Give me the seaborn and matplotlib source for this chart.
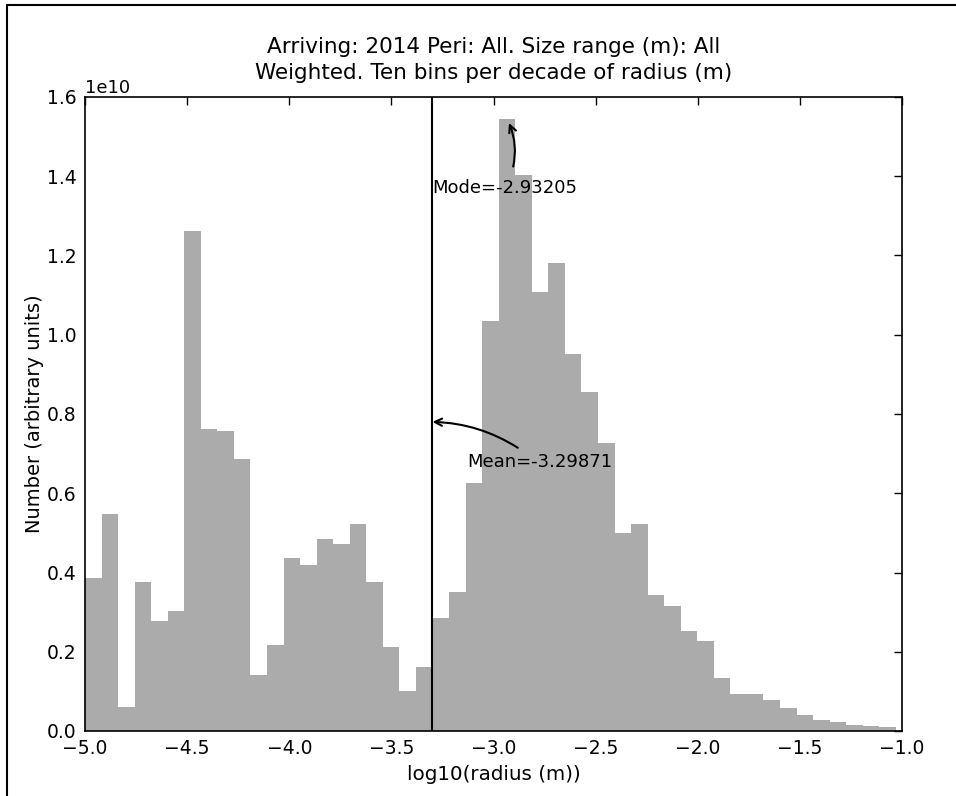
import numpy as np
import pandas as pd
import matplotlib
matplotlib.use("Agg")
import matplotlib.pyplot as plt
import seaborn as sns
from matplotlib.lines import Line2D

# ---- data ----
bin_lo = -5.0
bin_hi = -1.03
n_bins = 49
heights_e10 = [
    0.387, 0.547, 0.061, 0.377, 0.278, 0.304, 1.263, 0.763, 0.756, 0.687,
    0.141, 0.218, 0.437, 0.418, 0.485, 0.473, 0.523, 0.377, 0.211, 0.102,
    0.161,
    0.284, 0.350, 0.627, 1.034, 1.544, 1.403, 1.107, 1.180, 0.951, 0.856,
    0.726, 0.500, 0.523, 0.342, 0.316, 0.252, 0.227, 0.134, 0.093, 0.093,
    0.077, 0.057, 0.040, 0.027, 0.022, 0.016, 0.012, 0.009,
]
mean_val = -3.29871
mode_val = -2.93205
title_lines = ["Arriving: 2014 Peri: All. Size range (m): All",
               "Weighted. Ten bins per decade of radius (m)"]
x_ticks = [-5.0, -4.5, -4.0, -3.5, -3.0, -2.5, -2.0, -1.5, -1.0]
y_ticks_e10 = [0.0, 0.2, 0.4, 0.6, 0.8, 1.0, 1.2, 1.4, 1.6]

edges = np.linspace(bin_lo, bin_hi, n_bins + 1)
centers = (edges[:-1] + edges[1:]) / 2
weights = np.array(heights_e10) * 1e10
df = pd.DataFrame({"x": centers, "w": weights})

sns.set_style("white")
plt.rcParams["font.family"] = ["DejaVu Sans"]
plt.rcParams.update({"text.color": "black", "axes.labelcolor": "black",
                     "xtick.color": "black", "ytick.color": "black"})

fig = plt.figure(figsize=(9.56, 7.96), dpi=100)
ax = fig.add_axes([85 / 956, 1 - 731 / 796, (902 - 85) / 956, (731 - 97) / 796])

sns.histplot(data=df, x="x", weights="w", bins=n_bins,
             binrange=(bin_lo, bin_hi), stat="count",
             color="#ababab", alpha=1.0, edgecolor="none", linewidth=0,
             element="bars", fill=True, ax=ax)

ax.set_xlim(-5.0, -1.0)
ax.set_ylim(0, 1.6e10)
ax.set_xticks(x_ticks)
ax.set_yticks([v * 1e10 for v in y_ticks_e10])
ax.tick_params(direction="in", length=6, width=1, top=True, right=True,
               labelsize=13.5, pad=6, colors="black")
ax.ticklabel_format(axis="y", style="sci", scilimits=(0, 0))
ax.yaxis.get_offset_text().set_fontsize(13)
for s in ax.spines.values():
    s.set_color("black")
    s.set_linewidth(1.2)

ax.axvline(mean_val, color="black", lw=1.5)

ax.set_xlabel("log10(radius (m))", fontsize=14.3, labelpad=5)
ax.set_ylabel("Number (arbitrary units)", fontsize=14, labelpad=2)
ax.set_title("\n".join(title_lines), fontsize=15.5, pad=13, linespacing=1.35)

mode_h = max(weights)
ax.annotate("Mode=%g" % mode_val, xy=(mode_val, mode_h),
            xytext=(mean_val, 1.37e10), fontsize=13, ha="left", va="center",
            arrowprops=dict(arrowstyle="->", color="black", lw=1.5,
                            connectionstyle="arc3,rad=0.25",
                            shrinkA=7, shrinkB=3))
ax.annotate("Mean=%g" % mean_val, xy=(mean_val, 0.78e10),
            xytext=(-3.13, 0.68e10), fontsize=13, ha="left", va="center",
            arrowprops=dict(arrowstyle="->", color="black", lw=1.5,
                            connectionstyle="arc3,rad=0.15",
                            shrinkA=2, shrinkB=0,
                            relpos=(0.4, 1.0)))

# outer frame lines of the picture (top and left)
fig.add_artist(Line2D([7 / 956, 1.0], [1 - 5 / 796, 1 - 5 / 796],
                      transform=fig.transFigure, color="black", lw=1.5))
fig.add_artist(Line2D([7 / 956, 7 / 956], [0, 1 - 5 / 796],
                      transform=fig.transFigure, color="black", lw=1.5))

fig.savefig("out.png", dpi=100, facecolor="white")
